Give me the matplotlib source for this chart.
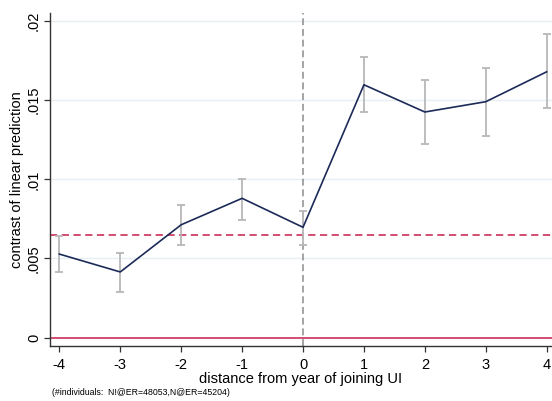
import matplotlib
matplotlib.use("Agg")
import matplotlib.pyplot as plt

plt.rcParams['font.family'] = ['Liberation Sans', 'DejaVu Sans']

x_vals = [-4, -3, -2, -1, 0, 1, 2, 3, 4]
estimates = [0.00528, 0.00415, 0.00713, 0.00880, 0.00697, 0.01597, 0.01425, 0.01490, 0.01679]
ci_low = [0.00417, 0.00289, 0.00587, 0.00743, 0.00585, 0.01423, 0.01221, 0.01273, 0.01448]
ci_high = [0.00644, 0.00537, 0.00836, 0.00999, 0.00802, 0.01774, 0.01627, 0.01705, 0.01915]
ref_dashed = 0.00646
ref_zero = 0.0
yticks = [0, 0.005, 0.01, 0.015, 0.02]
ytick_labels = ['0', '.005', '.01', '.015', '.02']
xlabel = 'distance from year of joining UI'
ylabel = 'contrast of linear prediction'
note = '(#individuals:  N!@ER=48053,N@ER=45204)'

fig = plt.figure(figsize=(5.52, 4.01), dpi=100)
ax = fig.add_axes([0.0906, 0.1372, 0.9094, 0.8311])

for y in yticks[1:]:
    ax.axhline(y, color='#e8eff2', lw=1.0, zorder=0)

ax.axvline(0, color='#8c8c8c', lw=1.1, ls=(0, (4.5, 2.5)), zorder=1)
ax.axhline(ref_zero, color='#cf3f63', lw=1.3, zorder=2)
ax.axhline(ref_dashed, color='#cf3f63', lw=1.3, ls=(0, (4, 2.5)), zorder=2)

yerr = [[e - l for e, l in zip(estimates, ci_low)], [h - e for e, h in zip(estimates, ci_high)]]
ax.errorbar(x_vals, estimates, yerr=yerr, fmt='none', ecolor='#b8b8b8', elinewidth=1.3,
            capsize=3, capthick=1.3, zorder=3)
ax.plot(x_vals, estimates, color='#1c2a58', lw=1.2, zorder=4)

ax.set_xlim(-4.153, 4.087)
ax.set_ylim(-0.000524, 0.02052)
ax.set_xticks(x_vals)
ax.set_xticklabels([str(v) for v in x_vals])
ax.set_yticks(yticks)
ax.set_yticklabels(ytick_labels, rotation=90, va='center')

for s in ['top', 'right']:
    ax.spines[s].set_visible(False)
for s in ['left', 'bottom']:
    ax.spines[s].set_color('#333333')
    ax.spines[s].set_linewidth(1.0)
ax.tick_params(axis='both', direction='out', length=4.5, width=0.9, color='#333333',
               labelsize=10.5, labelcolor='black')
ax.tick_params(axis='x', pad=4)
ax.tick_params(axis='y', pad=2)

ax.set_xlabel(xlabel, fontsize=10.5, labelpad=0)
ax.set_ylabel(ylabel, fontsize=10.5, labelpad=2)

fig.text(0.094, 0.0224, note, fontsize=6.3, ha='left', va='center')

fig.savefig('out.png', dpi=100)
